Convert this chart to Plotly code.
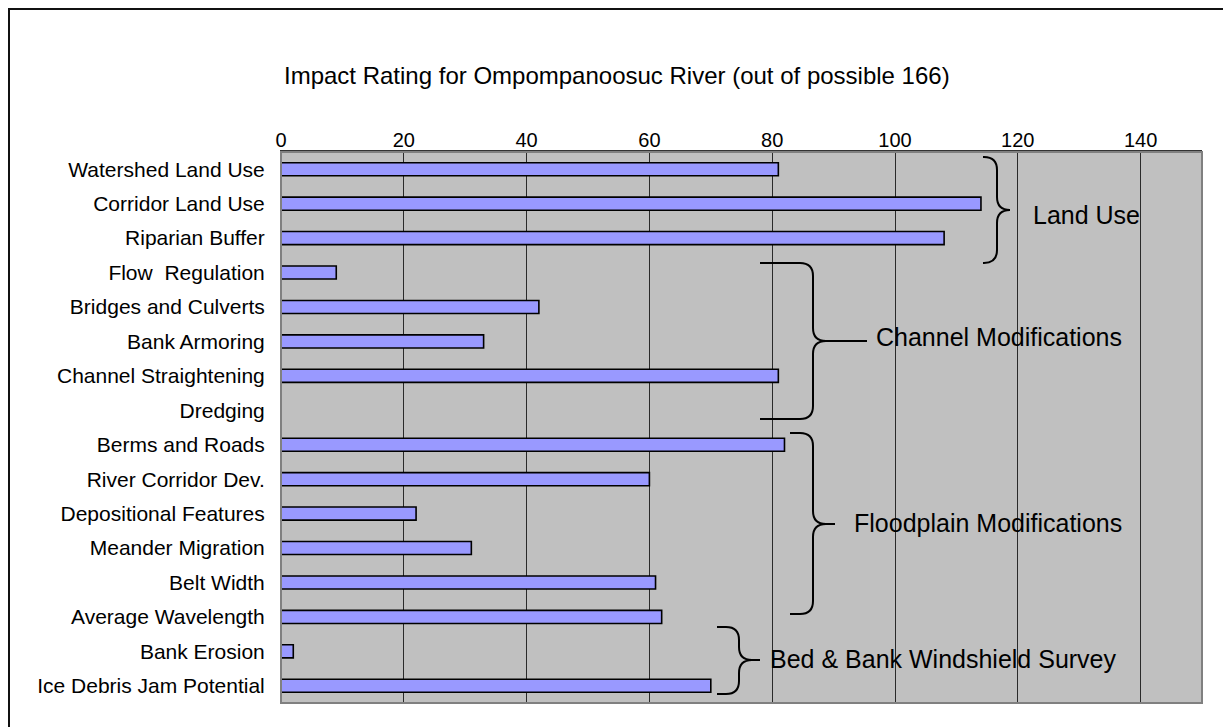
import plotly.graph_objects as go

# ---- data ----
categories = [
    "Watershed Land Use", "Corridor Land Use", "Riparian Buffer", "Flow  Regulation",
    "Bridges and Culverts", "Bank Armoring", "Channel Straightening", "Dredging",
    "Berms and Roads", "River Corridor Dev.", "Depositional Features", "Meander Migration",
    "Belt Width", "Average Wavelength", "Bank Erosion", "Ice Debris Jam Potential",
]
values = [81, 114, 108, 9, 42, 33, 81, 0, 82, 60, 22, 31, 61, 62, 2, 70]
x_ticks = [0, 20, 40, 60, 80, 100, 120, 140]
title_text = "Impact Rating for Ompompanoosuc River (out of possible 166)"
group_labels = ["Land Use", "Channel Modifications", "Floodplain Modifications",
                "Bed & Bank Windshield Survey"]

# ---- layout geometry (page pixels; page body adds an 8px offset) ----
OFF = 8
W, H = 1231, 727
PL, PR, PT, PB = 281 - OFF, 1202 - OFF, 152 - OFF, 703 - OFF


def px(x):
    return (x - OFF - PL) / (PR - PL)


def py(y):
    return (PB - (y - OFF)) / (PB - PT)


# brace geometry: x_end, x_mid, x_tip, y_top, y_tip, y_bot (page pixels)
braces = [
    (983, 997, 1010, 157, 210, 263),
    (760, 813, 867, 263, 341, 419),
    (790, 813, 835, 433, 524, 614),
    (717, 739, 760, 627, 660, 694),
]
label_pos = [(1031, 215), (874, 337), (852, 523), (768, 659)]


def brace_path(xe, xm, xt, yt, yc, yb, r=13):
    r = min(r, xm - xe, (yc - yt) / 2, (yb - yc) / 2)
    rt = min(r, xt - xm)

    def P(x, y):
        return f"{px(x):.5f},{py(y):.5f}"
    d = (f"M {P(xe, yt)} L {P(xm - r, yt)} Q {P(xm, yt)} {P(xm, yt + r)} "
         f"L {P(xm, yc - rt)} Q {P(xm, yc)} {P(xm + rt, yc)} L {P(xt, yc)} "
         f"M {P(xm + rt, yc)} Q {P(xm, yc)} {P(xm, yc + rt)} "
         f"L {P(xm, yb - r)} Q {P(xm, yb)} {P(xm - r, yb)} L {P(xe, yb)}")
    return d


fig = go.Figure(
    go.Bar(
        x=values,
        y=categories,
        orientation="h",
        width=0.38,
        marker=dict(color="#9999FF", line=dict(color="#000000", width=1.6)),
        hoverinfo="x+y",
    )
)

shapes = []
# outer chart border
shapes.append(dict(type="rect", xref="paper", yref="paper",
                   x0=px(9), x1=px(1227), y0=py(780), y1=py(9),
                   line=dict(color="#111111", width=2), layer="below"))
# plot area border
shapes.append(dict(type="rect", xref="paper", yref="paper",
                   x0=0, x1=1, y0=0, y1=1,
                   line=dict(color="#808080", width=2), layer="above"))
for b in braces:
    shapes.append(dict(type="path", xref="paper", yref="paper",
                       path=brace_path(*b),
                       line=dict(color="#000000", width=2)))

annotations = [
    dict(text=title_text, xref="paper", yref="paper", x=px(617), y=py(75),
         xanchor="center", yanchor="middle", showarrow=False,
         font=dict(size=24, color="#000000")),
]
for lbl, (lx, ly) in zip(group_labels, label_pos):
    annotations.append(dict(text=lbl, xref="paper", yref="paper", x=px(lx), y=py(ly),
                            xanchor="left", yanchor="middle", showarrow=False,
                            font=dict(size=25, color="#000000")))

fig.update_layout(
    width=W, height=H,
    margin=dict(l=PL, r=W - PR, t=PT, b=H - PB, pad=0),
    paper_bgcolor="#FFFFFF",
    plot_bgcolor="#C0C0C0",
    font=dict(family="Liberation Sans, Arial, sans-serif", color="#000000"),
    showlegend=False,
    bargap=0.62,
    xaxis=dict(
        side="top", range=[0, 150], tickvals=x_ticks, ticktext=[str(t) for t in x_ticks],
        showgrid=True, gridcolor="#2a2a2a", gridwidth=1, zeroline=False,
        showline=True, linecolor="#333333", linewidth=2, ticks="",
        tickfont=dict(size=20), ticklabelstandoff=-5, fixedrange=True,
    ),
    yaxis=dict(
        type="category", categoryorder="array", categoryarray=categories,
        autorange="reversed", showgrid=False, zeroline=False,
        showline=True, linecolor="#222222", linewidth=1, ticks="",
        tickfont=dict(size=21), ticklabelstandoff=11, fixedrange=True,
    ),
    shapes=shapes,
    annotations=annotations,
)

fig.write_html("out.html")
